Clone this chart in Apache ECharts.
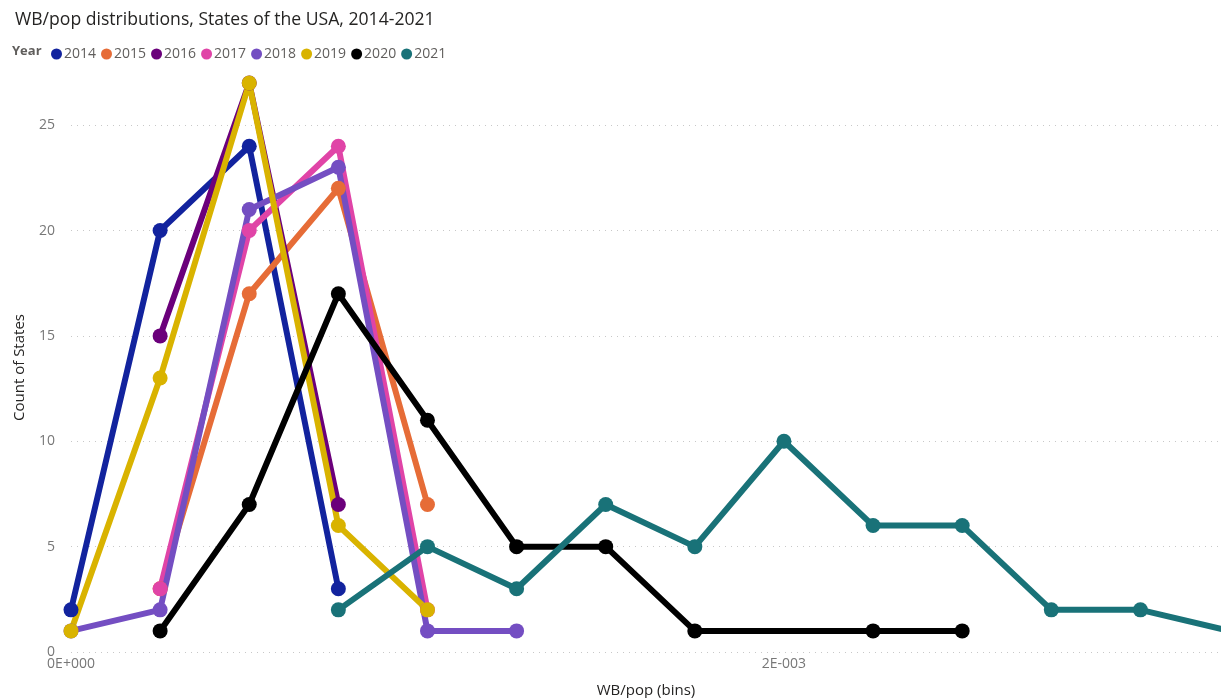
<!DOCTYPE html>
<html><head><meta charset="utf-8">
<script src="https://cdn.jsdelivr.net/npm/echarts@6/dist/echarts.min.js"></script>
<style>html,body{margin:0;padding:0;background:#fff}#c{width:1221px;height:698px}</style>
</head><body><div id="c"></div>
<script>
const years = ['2014','2015','2016','2017','2018','2019','2020','2021'];
const colors = ['#12239E','#E66C37','#6B007B','#E044A7','#744EC2','#D9B300','#000000','#197278'];
// bin start values (WB/pop) and counts per year
const s2014 = [[0,2],[0.00025,20],[0.0005,24],[0.00075,3]];
const s2015 = [[0.00025,3],[0.0005,17],[0.00075,22],[0.001,7]];
const s2016 = [[0.00025,15],[0.0005,27],[0.00075,7]];
const s2017 = [[0.00025,3],[0.0005,20],[0.00075,24],[0.001,2]];
const s2018 = [[0,1],[0.00025,2],[0.0005,21],[0.00075,23],[0.001,1],[0.00125,1]];
const s2019 = [[0,1],[0.00025,13],[0.0005,27],[0.00075,6],[0.001,2]];
const s2020 = [[0.00025,1],[0.0005,7],[0.00075,17],[0.001,11],[0.00125,5],[0.0015,5],[0.00175,1],[0.00225,1],[0.0025,1]];
const s2021 = [[0.00075,2],[0.001,5],[0.00125,3],[0.0015,7],[0.00175,5],[0.002,10],[0.00225,6],[0.0025,6],[0.00275,2],[0.003,2],[0.00325,1]];
const seriesData = [s2014,s2015,s2016,s2017,s2018,s2019,s2020,s2021];
const xTickLabels = {0:'0E+000', 0.002:'2E-003'};

const chart = echarts.init(document.getElementById('c'));
const font = 'Open Sans';
chart.setOption({
  animation:false,
  color: colors,
  title:{text:'WB/pop distributions, States of the USA, 2014-2021',left:10,top:6,
    textStyle:{fontFamily:font,fontSize:17.6,fontWeight:'normal',color:'#252423'}},
  graphic:[{type:'text',left:12,top:45,style:{text:'Year',font:'bold 13px "Open Sans"',fill:'#605E5C'}}],
  legend:{left:46,top:42,icon:'circle',itemWidth:11,itemHeight:11,itemGap:5,
    textStyle:{fontFamily:font,fontSize:14,color:'#605E5C',padding:[0,0,0,-3]},
    data:years},
  grid:{left:71,right:0,top:83,bottom:46,containLabel:false,outerBoundsMode:'none'},
  xAxis:{type:'value',min:0,max:0.003226,interval:0.002,
    name:'WB/pop (bins)',nameLocation:'middle',nameGap:31,
    nameTextStyle:{fontFamily:font,fontSize:15,color:'#252423'},
    axisLine:{show:false},axisTick:{show:false},splitLine:{show:false},
    axisLabel:{showMaxLabel:false,fontFamily:font,fontSize:14,color:'#777',margin:5,
      formatter:v=>xTickLabels[Math.round(v*1e6)/1e6]||''}},
  yAxis:{type:'value',min:0,max:27,interval:5,
    name:'Count of States',nameLocation:'middle',nameGap:44,nameRotate:90,
    nameTextStyle:{fontFamily:font,fontSize:15,color:'#252423'},
    axisLine:{show:false},axisTick:{show:false},
    splitLine:{showMaxLine:false,lineStyle:{type:[1,5],color:'#c8c8c8',width:1}},
    axisLabel:{showMaxLabel:false,fontFamily:font,fontSize:14,color:'#777',margin:16}},
  series: years.map((y,i)=>({
    name:y,type:'line',data:seriesData[i],clip:false,
    symbol:'circle',symbolSize:15,showSymbol:true,
    lineStyle:{width:6,color:colors[i]},itemStyle:{color:colors[i]},
    emphasis:{disabled:true}
  }))
});
</script></body></html>
